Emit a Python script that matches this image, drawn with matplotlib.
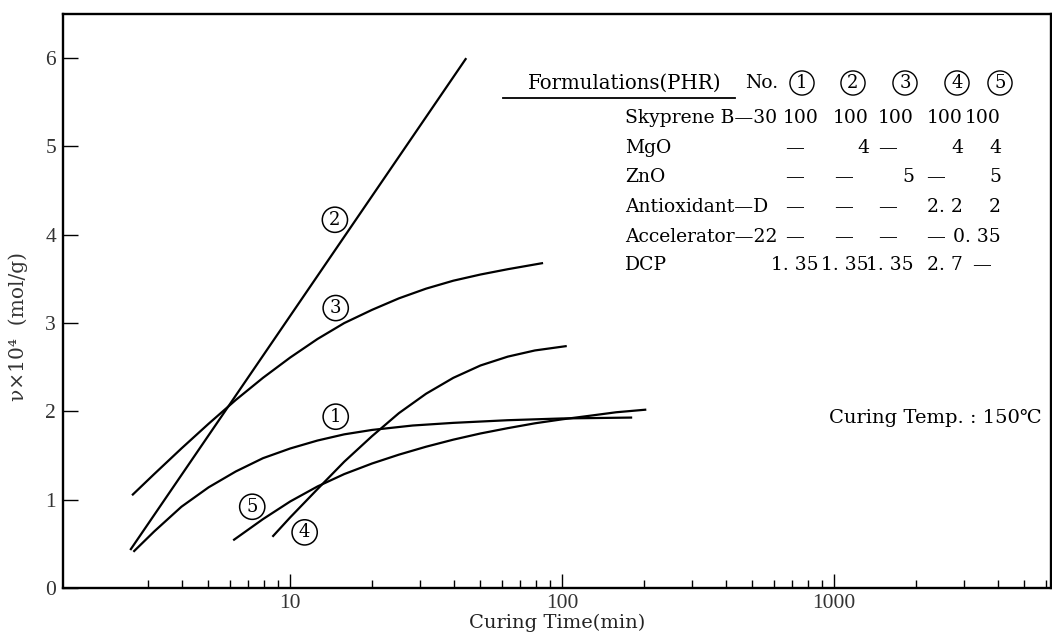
import numpy as np
import matplotlib
matplotlib.use("Agg")
import matplotlib.pyplot as plt
from matplotlib.ticker import FixedLocator, NullFormatter

# ---------------- data ----------------
# Curing time (min) and crosslink density nu x 10^4 (mol/g)
c1_x = [2.65, 3.16, 3.98, 5.01, 6.31, 7.94, 10.0, 12.6, 15.8, 20.0, 28.2, 39.8, 63.1, 100, 181]
c1_y = [0.41, 0.64, 0.92, 1.14, 1.32, 1.47, 1.58, 1.67, 1.74, 1.79, 1.84, 1.87, 1.90, 1.92, 1.93]

c2_x = [2.58, 44.4]
c2_y = [0.43, 6.00]

c3_x = [2.62, 3.16, 3.98, 5.01, 6.31, 7.94, 10.0, 12.6, 15.8, 20.0, 25.1, 31.6, 39.8, 50.1, 63.1, 85.1]
c3_y = [1.05, 1.29, 1.58, 1.86, 2.13, 2.38, 2.61, 2.82, 3.00, 3.15, 3.28, 3.39, 3.48, 3.55, 3.61, 3.68]

c4_x = [8.6, 10.0, 12.6, 15.8, 20.0, 25.1, 31.6, 39.8, 50.1, 63.1, 79.4, 104]
c4_y = [0.58, 0.80, 1.12, 1.43, 1.72, 1.98, 2.20, 2.38, 2.52, 2.62, 2.69, 2.74]

c5_x = [6.17, 7.94, 10.0, 12.6, 15.8, 20.0, 25.1, 31.6, 39.8, 50.1, 63.1, 79.4, 100, 126, 158, 204]
c5_y = [0.54, 0.78, 0.98, 1.15, 1.29, 1.41, 1.51, 1.60, 1.68, 1.75, 1.81, 1.865, 1.91, 1.95, 1.99, 2.02]

curve_labels = ["1", "2", "3", "4", "5"]

x_major = [10, 100, 1000]
x_major_labels = ["10", "100", "1000"]
y_ticks = [0, 1, 2, 3, 4, 5, 6]

# formulation table
table_title = "Formulations(PHR)"
table_no = "No."
row_names = ["Skyprene B\u201430", "MgO", "ZnO", "Antioxidant\u2014D",
             "Accelerator\u201422", "DCP"]
row_skyprene = ["100", "100", "100", "100", "100"]
row_mgo = ["\u2014", "4", "\u2014", "4", "4"]
row_zno = ["\u2014", "\u2014", "5", "\u2014", "5"]
row_antiox = ["\u2014", "\u2014", "\u2014", "2. 2", "2"]
row_accel = ["\u2014", "\u2014", "\u2014", "\u2014", "0. 35"]
row_dcp = ["1. 35", "1. 35", "1. 35", "2. 7", "\u2014"]
temp_note = "Curing Temp. : 150\u2103"

# ---------------- figure ----------------
W, H = 1052, 638
fig = plt.figure(figsize=(W / 100, H / 100), dpi=100)
SERIF = ["DejaVu Serif", "DejaVu Sans", "Noto Sans CJK JP"]
NUMF = ["Liberation Serif", "DejaVu Serif"]
plt.rcParams["font.family"] = SERIF

ax_l, ax_r, ax_b, ax_t = 63, 1051, 588, 14
ax = fig.add_axes([ax_l / W, 1 - ax_b / H, (ax_r - ax_l) / W, (ax_b - ax_t) / H])

lw = 1.6
for xs, ys in [(c1_x, c1_y), (c2_x, c2_y), (c3_x, c3_y), (c4_x, c4_y), (c5_x, c5_y)]:
    ax.plot(xs, ys, color="black", lw=lw, solid_capstyle="butt", solid_joinstyle="round")

ax.set_xscale("log")
ax.set_xlim(1.46, 6280)
ax.set_ylim(0, 6.5)

ax.xaxis.set_major_locator(FixedLocator(x_major))
ax.set_xticklabels(x_major_labels)
minor = [m * d for d in (1, 10, 100, 1000) for m in range(2, 10)]
minor = [v for v in minor if 3 <= v <= 6000]
ax.xaxis.set_minor_locator(FixedLocator(minor))
ax.xaxis.set_minor_formatter(NullFormatter())
ax.set_yticks(y_ticks)
ax.set_yticklabels([str(v) for v in y_ticks])

ax.tick_params(axis="x", which="major", direction="in", length=10, width=1.0,
               labelsize=15.5, pad=4, colors="black")
ax.tick_params(axis="x", which="minor", direction="in", length=6, width=1.0)
ax.tick_params(axis="y", which="major", direction="in", length=11, width=1.0,
               labelsize=15.5, pad=5)
for lab in ax.get_xticklabels() + ax.get_yticklabels():
    lab.set_family(NUMF)
    lab.set_color("#333333")

for s in ax.spines.values():
    s.set_linewidth(1.7)

ax.set_xlabel("Curing Time(min)", fontsize=14, labelpad=1, family=SERIF, color="#222222")


def px(x, y):
    return x / W, 1 - y / H


fig.text(*px(18, 327), "\u03bd\u00d710\u2074  (mol/g)", rotation=90, ha="center",
         va="center", fontsize=14.5, family=SERIF, color="#333333")

# curve labels (circled numbers), data coordinates
label_pos = [(14.7, 1.94), (14.6, 4.17), (14.7, 3.17), (11.3, 0.63), (7.25, 0.92)]
for lab, (lx, ly) in zip(curve_labels, label_pos):
    ax.text(lx, ly, lab, ha="center", va="center", fontsize=13, family=SERIF,
            bbox=dict(boxstyle="circle,pad=0.2", fc="none", ec="black", lw=1.1))

# table
fs = 13.5
fig.text(*px(528, 83), table_title, ha="left", va="center", fontsize=14.2, family=SERIF)
fig.add_artist(plt.Line2D([503 / W, 735 / W], [1 - 98 / H, 1 - 98 / H],
                          color="black", lw=1.3))
fig.text(*px(745, 83), table_no, ha="left", va="center", fontsize=fs, family=SERIF)
head_cx = [802, 853, 905, 957, 1000]
for lab, cx in zip(curve_labels, head_cx):
    fig.text(*px(cx, 83), lab, ha="center", va="center", fontsize=13, family=SERIF,
             bbox=dict(boxstyle="circle,pad=0.17", fc="none", ec="black", lw=1.0))

row_y = [118, 148, 177, 207, 237, 265]
num_right = [819, 869, 914, 963, 1001]
dash_cx = [795, 844, 888, 936, 982]
rows = [row_skyprene, row_mgo, row_zno, row_antiox, row_accel, row_dcp]
for name, vals, ry in zip(row_names, rows, row_y):
    fig.text(*px(625, ry), name, ha="left", va="center", fontsize=fs, family=SERIF)
    for j, v in enumerate(vals):
        if v == "\u2014":
            fig.text(*px(dash_cx[j], ry), v, ha="center", va="center", fontsize=fs,
                     family=SERIF)
        else:
            fig.text(*px(num_right[j], ry), v, ha="right", va="center", fontsize=fs,
                     family=SERIF)

fig.text(*px(1042, 418), temp_note, ha="right", va="center", fontsize=14, family=SERIF)

fig.savefig("out.png", dpi=100)
